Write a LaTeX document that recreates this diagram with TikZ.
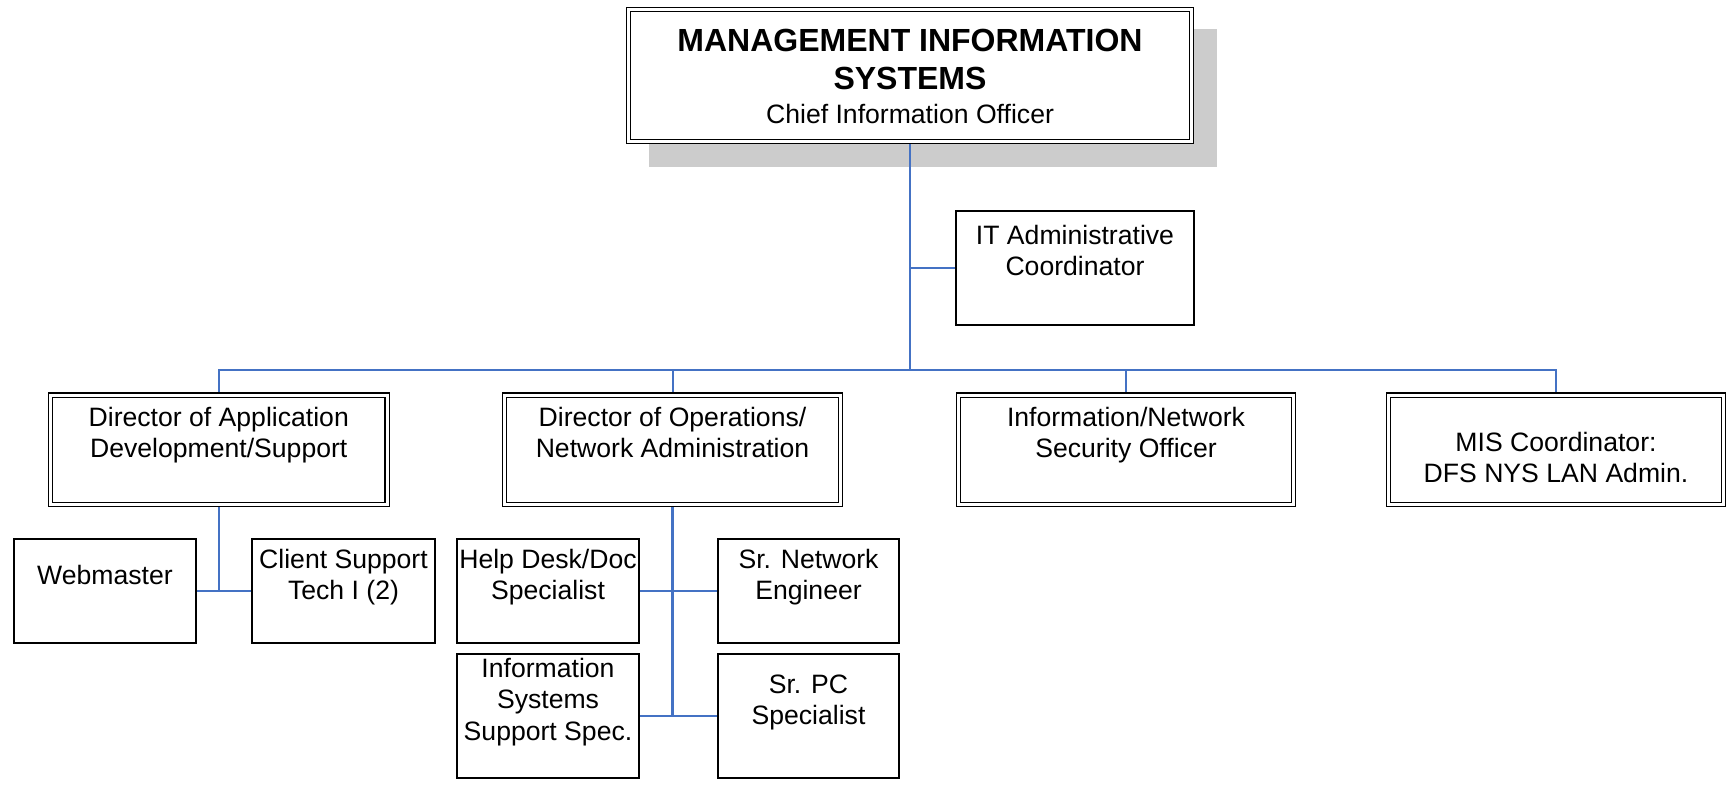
\documentclass[tikz,border=0pt]{standalone}
\usepackage{fontspec}
\setmainfont{Liberation Sans}
\usetikzlibrary{backgrounds}
\definecolor{conn}{HTML}{4472C4}
\definecolor{shadowgray}{HTML}{CCCCCC}
\newcommand{\fstrut}{\rule{0pt}{24pt}}
\tikzset{
  txt/.style={inner sep=0pt, anchor=north, align=center, font=\fontsize{26.6}{31.7}\selectfont},
  ttl/.style={inner sep=0pt, anchor=north, align=center, font=\fontsize{32}{37.5}\selectfont\bfseries},
  single/.style={draw=black, line width=1.4pt, fill=white, inner sep=0pt, outer sep=0pt, rectangle},
  dbl/.style={draw=black, line width=1.4pt, double=white, double distance=3pt, fill=white, inner sep=0pt, outer sep=0pt, rectangle},
  link/.style={draw=conn, line width=2pt},
  linkv/.style={draw=conn, line width=2.2pt},
}
\begin{document}
\begin{tikzpicture}[x=1pt, y=-1pt]
\useasboundingbox (0,0) rectangle (1731,786);
% boxes
\node[dbl, minimum width=563pt, minimum height=132pt] (top) at (910,75.5) {};
\node[single, minimum width=238pt, minimum height=114pt] (ita) at (1075,268) {};
\node[dbl, minimum width=336.5pt, minimum height=109.5pt] (dapp) at (218.75,449.75) {};
\node[dbl, minimum width=336pt, minimum height=109.5pt] (dops) at (672.5,449.75) {};
\node[dbl, minimum width=335pt, minimum height=109.5pt] (sec) at (1126,449.75) {};
\node[dbl, minimum width=335pt, minimum height=109.5pt] (mis) at (1556,449.75) {};
\node[single, minimum width=182pt, minimum height=104pt] (web) at (105,591) {};
\node[single, minimum width=183pt, minimum height=104pt] (cst) at (343.5,591) {};
\node[single, minimum width=182pt, minimum height=104pt] (help) at (548,591) {};
\node[single, minimum width=181pt, minimum height=104pt] (srnet) at (808.5,591) {};
\node[single, minimum width=182pt, minimum height=124pt] (isys) at (548,716) {};
\node[single, minimum width=181pt, minimum height=124pt] (srpc) at (808.5,716) {};
\coordinate (bus) at (0,370);
% texts
\node[ttl] (topt) at (910,27.5) {\fstrut MANAGEMENT INFORMATION\\SYSTEMS};
\node[txt] (tops) at (910,99) {\fstrut Chief Information Officer};
\node[txt] (itat) at (1075,220) {\fstrut IT Administrative\\Coordinator};
\node[txt] (dappt) at (218.75,402) {\fstrut Director of Application\\Development/Support};
\node[txt] (dopst) at (672.5,402) {\fstrut Director of Operations/\\Network Administration};
\node[txt] (sect) at (1126,402) {\fstrut Information/Network\\Security Officer};
\node[txt] (mist) at (1556,427) {\fstrut MIS Coordinator:\\DFS NYS LAN Admin.};
\node[txt] (webt) at (105,560) {\fstrut Webmaster};
\node[txt] (cstt) at (343.5,544) {\fstrut Client Support\\Tech I (2)};
\node[txt] (helpt) at (548,544) {\fstrut Help Desk/Doc\\Specialist};
\node[txt] (srnett) at (808.5,544) {\fstrut Sr. Network\\Engineer};
\node[txt] (isyst) at (548,653) {\fstrut Information\\Systems\\Support Spec.};
\node[txt] (srpct) at (808.5,669) {\fstrut Sr. PC\\Specialist};
% background: shadow and connectors
\begin{pgfonlayer}{background}
\fill[shadowgray] (649,29) rectangle (1217,167);
\draw[linkv] (top.south) -- (top.south |- bus);
\draw[link] (top.south |- ita.west) -- (ita.west);
\draw[link] (dapp.north) -- (dapp.north |- bus) -| (mis.north);
\draw[link] (dops.north) -- (dops.north |- bus);
\draw[link] (sec.north) -- (sec.north |- bus);
\draw[linkv] (dapp.south) -- (dapp.south |- web.east);
\draw[link] (web.east) -- (cst.west);
\draw[linkv] (dops.south) -- (dops.south |- isys.east);
\draw[link] (help.east) -- (srnet.west);
\draw[link] (isys.east) -- (srpc.west);
\end{pgfonlayer}
\end{tikzpicture}
\end{document}
